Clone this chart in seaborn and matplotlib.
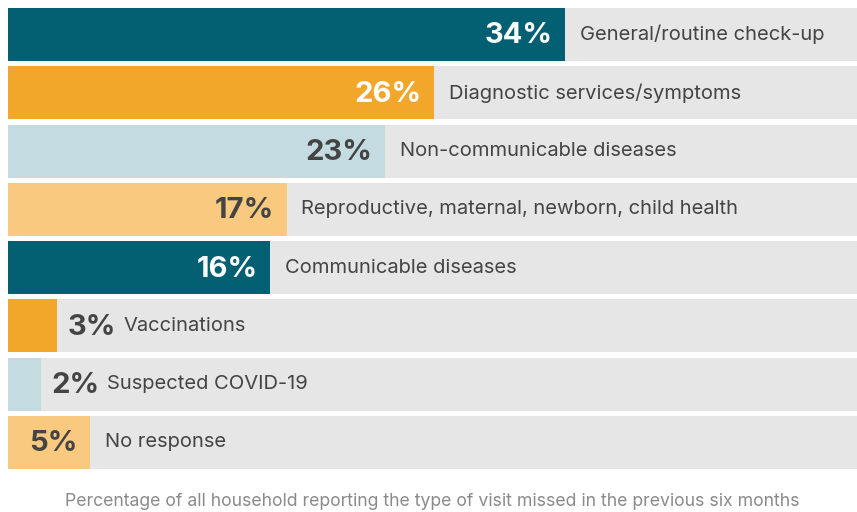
import pandas as pd
import seaborn as sns
import matplotlib
matplotlib.use('Agg')
import matplotlib.pyplot as plt

categories = ['General/routine check-up', 'Diagnostic services/symptoms', 'Non-communicable diseases',
              'Reproductive, maternal, newborn, child health', 'Communicable diseases', 'Vaccinations',
              'Suspected COVID-19', 'No response']
values = [34, 26, 23, 17, 16, 3, 2, 5]
bar_colors = ['#035f72', '#f2a72b', '#c4dbe1', '#f8c97f', '#035f72', '#f2a72b', '#c4dbe1', '#f8c97f']
label_colors = ['white', 'white', '#444444', '#444444', 'white', '#444444', '#444444', '#444444']
caption = 'Percentage of all household reporting the type of visit missed in the previous six months'

xmax = 51.8
df = pd.DataFrame({'category': categories, 'value': values, 'bg': [xmax] * len(values)})

sns.set_theme(style='white')
plt.rcParams['font.family'] = ['Inter', 'DejaVu Sans']

fig = plt.figure(figsize=(8.57, 5.12), dpi=100)
ax = fig.add_axes([8 / 857, 1 - 469 / 512, 1 - 8 / 857, (469 - 8) / 512])

h = 0.91
sns.barplot(data=df, x='bg', y='category', color='#e6e6e6', width=h, ax=ax, saturation=1, linewidth=0)
sns.barplot(data=df, x='value', y='category', hue='category', palette=bar_colors, width=h,
            legend=False, ax=ax, saturation=1, linewidth=0)

ax.set_xlim(0, xmax)
ax.set_ylim(len(values) - 1 + h / 2, -h / 2)
ax.set_axis_off()

for i, (v, name) in enumerate(zip(values, categories)):
    if v < 4:
        # label sits outside a short bar
        pct = ax.annotate(f'{v}%', xy=(v, i), xytext=(7.5, -1), textcoords='offset points',
                          ha='left', va='center', fontsize=21, fontweight='bold', color=label_colors[i])
        ax.annotate(name, xy=(1, i), xycoords=(pct, 'data'), xytext=(5.5, 0), textcoords='offset points',
                    ha='left', va='center', fontsize=14.5, color='#444444')
    else:
        ax.annotate(f'{v}%', xy=(v, i), xytext=(-9, -1), textcoords='offset points',
                    ha='right', va='center', fontsize=21, fontweight='bold', color=label_colors[i])
        ax.annotate(name, xy=(v, i), xytext=(10.5, 0), textcoords='offset points',
                    ha='left', va='center', fontsize=14.5, color='#444444')

fig.text((8 + 857) / 2 / 857, 1 - 502 / 512, caption, ha='center', va='center', fontsize=12.7, color='#8a8a8a')

fig.savefig('out.png', dpi=100)
